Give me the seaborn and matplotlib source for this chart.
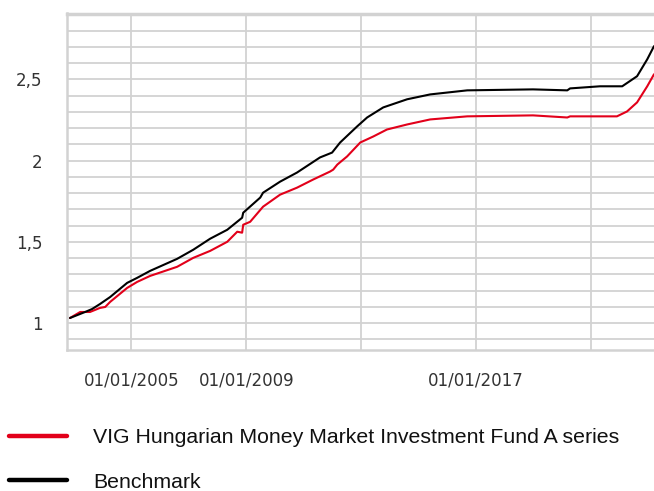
import matplotlib
matplotlib.use("Agg")
import matplotlib.pyplot as plt
import matplotlib.dates as mdates
from matplotlib.ticker import FixedLocator, MultipleLocator
import pandas as pd
import seaborn as sns

fund_name = "VIG Hungarian Money Market Investment Fund A series"
bench_name = "Benchmark"

fund_dates = ["2002-11-15", "2003-03-25", "2003-07-27", "2003-12-01", "2004-02-06",
              "2004-04-08", "2004-11-10", "2005-03-17", "2005-08-29", "2006-08-07",
              "2007-02-28", "2007-10-01", "2008-05-05", "2008-09-09", "2008-11-10",
              "2008-11-24", "2009-02-20", "2009-08-03", "2010-03-07", "2010-10-08",
              "2011-05-01", "2011-12-01", "2012-01-11", "2012-03-03", "2012-07-05",
              "2012-12-20", "2013-06-03", "2013-11-24", "2014-08-07", "2015-05-27",
              "2016-09-09", "2018-12-24", "2020-03-03", "2020-04-08", "2021-11-24",
              "2022-04-01", "2022-08-07", "2022-12-14", "2023-03-10"]
fund_values = [1.031, 1.068, 1.068, 1.093, 1.099,
               1.130, 1.216, 1.253, 1.290, 1.346,
               1.401, 1.444, 1.500, 1.562, 1.556,
               1.605, 1.623, 1.716, 1.790, 1.833,
               1.883, 1.932, 1.944, 1.975, 2.025,
               2.111, 2.148, 2.191, 2.222, 2.253,
               2.272, 2.278, 2.265, 2.272, 2.272,
               2.302, 2.358, 2.457, 2.531]

bench_dates = ["2002-11-15", "2003-05-26", "2003-08-22", "2003-12-01", "2004-04-08",
               "2004-11-10", "2005-03-17", "2005-08-29", "2006-08-07", "2007-02-28",
               "2007-10-01", "2008-05-05", "2008-11-10", "2008-11-24", "2009-06-28",
               "2009-08-03", "2010-03-07", "2010-10-08", "2011-07-27", "2011-12-28",
               "2012-04-08", "2012-11-10", "2013-03-17", "2013-10-08", "2014-08-07",
               "2015-05-27", "2016-09-09", "2018-12-24", "2020-03-03", "2020-04-08",
               "2021-04-23", "2022-01-30", "2022-08-07", "2022-12-14", "2023-03-10"]
bench_values = [1.031, 1.068, 1.086, 1.117, 1.160,
                1.247, 1.278, 1.321, 1.395, 1.451,
                1.519, 1.574, 1.648, 1.679, 1.772,
                1.802, 1.870, 1.926, 2.019, 2.049,
                2.111, 2.210, 2.265, 2.327, 2.377,
                2.407, 2.432, 2.438, 2.432, 2.444,
                2.457, 2.457, 2.519, 2.623, 2.704]

x_tick_dates = ["2005-01-01", "2009-01-01", "2013-01-01", "2017-01-01", "2021-01-01"]
x_tick_labels = ["01/01/2005", "01/01/2009", "", "01/01/2017", ""]
y_ticks = [1.0, 1.5, 2.0, 2.5]
y_tick_labels = ["1", "1,5", "2", "2,5"]

df = pd.concat([
    pd.DataFrame({"date": pd.to_datetime(fund_dates), "value": fund_values, "series": fund_name}),
    pd.DataFrame({"date": pd.to_datetime(bench_dates), "value": bench_values, "series": bench_name}),
])

sns.set_style("white")
plt.rcParams["font.family"] = ["DejaVu Sans"]

fig = plt.figure(figsize=(6.54, 4.91), dpi=100)
ax = fig.add_axes([67 / 654, 1 - 350 / 491, (654 - 67) / 654, (350 - 13.5) / 491])

GRID = "#d2d2d2"
palette = {fund_name: "#e2001a", bench_name: "#000000"}
sns.lineplot(data=df, x="date", y="value", hue="series", palette=palette,
             hue_order=[fund_name, bench_name], linewidth=1.5, ax=ax, legend=False,
             estimator=None, sort=True)

ax.set_xlim(pd.Timestamp("2002-10-08"), pd.Timestamp("2023-03-10"))
ax.set_ylim(0.834, 2.905)

xt = mdates.date2num(pd.to_datetime(x_tick_dates))
ax.xaxis.set_major_locator(FixedLocator(xt))
ax.set_xticklabels(x_tick_labels)
ax.yaxis.set_major_locator(FixedLocator(y_ticks))
ax.set_yticklabels(y_tick_labels)
ax.yaxis.set_minor_locator(MultipleLocator(0.1))

ax.set_xlabel("")
ax.set_ylabel("")
ax.grid(True, which="both", color=GRID, linewidth=1.3)
ax.set_axisbelow(True)

ax.tick_params(axis="x", which="major", length=7.5, width=1.5, color=GRID,
               labelsize=12, labelcolor="#333333", pad=8)
ax.tick_params(axis="y", which="major", length=7.5, width=1.5, color=GRID,
               labelsize=12, labelcolor="#333333", pad=10)
ax.tick_params(axis="y", which="minor", length=2.5, width=1.3, color=GRID)

for side in ["left", "bottom"]:
    ax.spines[side].set_color(GRID)
    ax.spines[side].set_linewidth(1.8)
ax.spines["top"].set_color(GRID)
ax.spines["top"].set_linewidth(2.5)
ax.spines["right"].set_visible(False)

handles = [plt.Line2D([], [], color=palette[fund_name], linewidth=3.2),
           plt.Line2D([], [], color=palette[bench_name], linewidth=3.2)]
fig.legend(handles, [fund_name, bench_name], loc="upper left",
           bbox_to_anchor=(9 / 654, 1 - 428 / 491), frameon=False,
           prop={"family": "Liberation Sans", "size": 15.3},
           handlelength=2.73, handletextpad=1.22, labelspacing=1.22,
           borderpad=0, borderaxespad=0, labelcolor="#111111")

fig.savefig("out.png", dpi=100)
